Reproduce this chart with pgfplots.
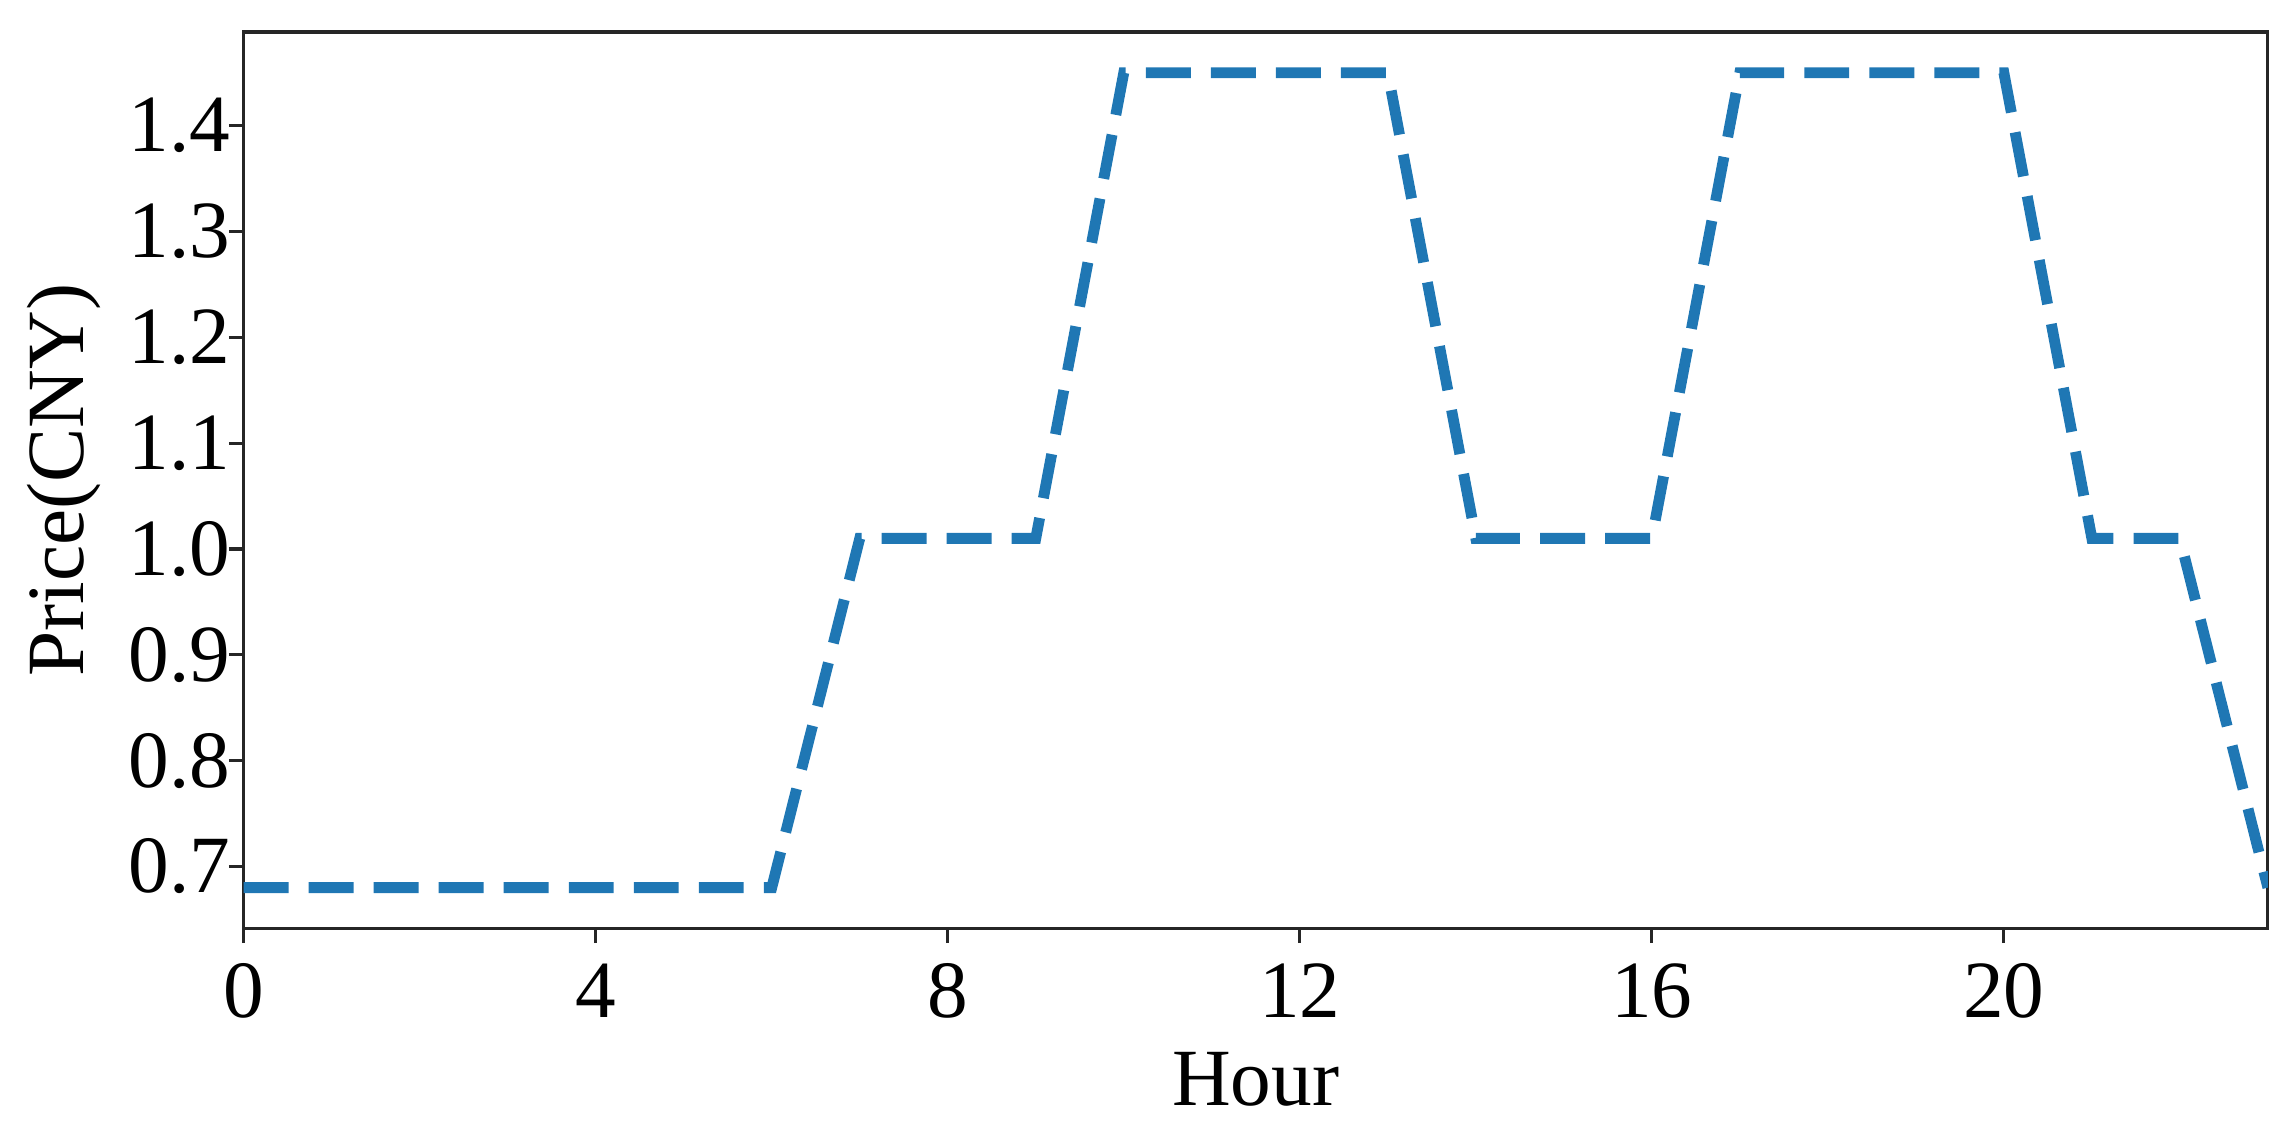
\documentclass[border=0pt]{standalone}
\usepackage{fontspec}
\setmainfont{Liberation Serif}
\usepackage{pgfplots}
\pgfplotsset{compat=1.18}
\definecolor{tabblue}{HTML}{1F77B4}
\begin{document}
\fontsize{16.5}{20}\selectfont
\begin{tikzpicture}
\begin{axis}[
    scale only axis,
    width=411pt, height=182pt,
    xmin=0, xmax=23,
    ymin=0.6415, ymax=1.4885,
    xtick={0,4,8,12,16,20},
    ytick={0.7,0.8,0.9,1.0,1.1,1.2,1.3,1.4},
    /pgf/number format/assume math mode=true,
    tick align=outside, tick pos=left,
    major tick length=3pt,
    axis line style={line width=0.65pt, black!85},
    tick style={line width=0.65pt, black!85},
    xlabel={Hour}, ylabel={Price(CNY)},
    ticklabel style={font=\fontsize{16.5}{20}\selectfont, inner sep=2.5pt},
    yticklabel style={xshift=3pt, /pgf/number format/.cd, fixed, fixed zerofill, precision=1},
    xticklabel style={yshift=-1.5pt},
    label style={font=\fontsize{16.5}{20}\selectfont},
    ylabel style={yshift=-2.5pt},
    xlabel style={yshift=1.3pt},
]
\addplot[color=tabblue, line width=2.2pt, dash pattern=on 9.1pt off 4.1pt, line cap=butt]
    coordinates {(0,0.68)(1,0.68)(2,0.68)(3,0.68)(4,0.68)(5,0.68)(6,0.68)
    (7,1.01)(8,1.01)(9,1.01)
    (10,1.45)(11,1.45)(12,1.45)(13,1.45)
    (14,1.01)(15,1.01)(16,1.01)
    (17,1.45)(18,1.45)(19,1.45)(20,1.45)
    (21,1.01)(22,1.01)(23,0.68)};
\end{axis}
% white space round the axes, as in the reference
\path (current axis.north east) ++(5.1pt,6.5pt);
\end{tikzpicture}
\end{document}
